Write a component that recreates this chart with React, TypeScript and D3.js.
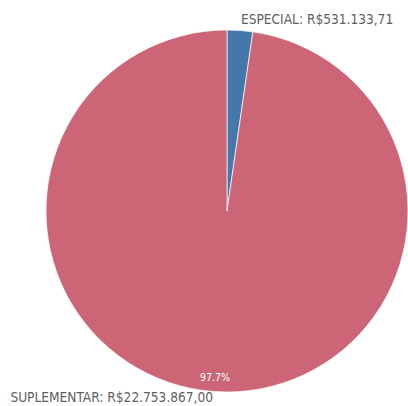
import React from 'react';
import * as d3 from 'd3';

const categories = ['ESPECIAL', 'SUPLEMENTAR'];
const values = [531133.71, 22753867.0];
const colors = ['#4477aa', '#cc6677'];

const width = 408;
const height = 406;
const cx = 227;
const cy = 211;
const radius = 181;

const fmtBRL = (v: number) => {
  const [int, dec] = v.toFixed(2).split('.');
  return 'R$' + int.replace(/\B(?=(\d{3})+(?!\d))/g, '.') + ',' + dec;
};

const App: React.FC = () => {
  const data = categories.map((c, i) => ({ name: c, value: values[i], color: colors[i] }));
  const total = d3.sum(values);
  const pie = d3.pie<typeof data[number]>().value(d => d.value).sort(null);
  const arcs = pie(data);
  const arc = d3.arc<d3.PieArcDatum<typeof data[number]>>().innerRadius(0).outerRadius(radius);

  return (
    <svg width={width} height={height} style={{ position: 'absolute', left: 0, top: 0 }}>
      <g transform={`translate(${cx},${cy})`}>
        {arcs.map((a, i) => (
          <path key={i} d={arc(a) || ''} fill={a.data.color} stroke="#ffffff" strokeWidth={0.7} />
        ))}
        {arcs.map((a, i) => {
          const mid = (a.startAngle + a.endAngle) / 2;
          const px = Math.sin(mid) * radius;
          const py = -Math.cos(mid) * radius;
          const top = py < 0;
          const pct = a.data.value / total;
          return (
            <g key={'l' + i}>
              <text
                x={top ? px + 1 : px - 1}
                y={top ? py - 6 : py + 10.5}
                textAnchor={top ? 'start' : 'end'}
                fontFamily="'DejaVu Sans Condensed', 'Liberation Sans Narrow', sans-serif"
                fontSize={13.6}
                fill="#5f5f5f"
              >
                {a.data.name}: {fmtBRL(a.data.value)}
              </text>
              {pct > 0.1 && (
                <text
                  x={Math.sin(mid) * radius * 0.92}
                  y={-Math.cos(mid) * radius * 0.92 + 4}
                  textAnchor="middle"
                  fontFamily="'DejaVu Sans Condensed', sans-serif"
                  fontSize={10.5}
                  fill="#ffffff"
                >
                  {(pct * 100).toFixed(1)}%
                </text>
              )}
            </g>
          );
        })}
      </g>
    </svg>
  );
};

export default App;
